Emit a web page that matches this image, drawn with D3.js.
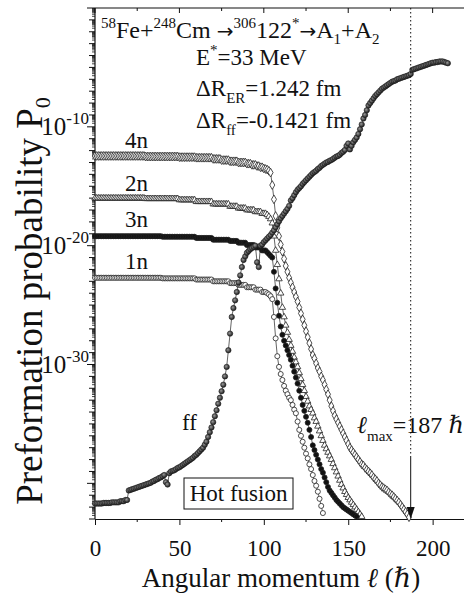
<!DOCTYPE html>
<html><head><meta charset="utf-8">
<script src="https://cdn.jsdelivr.net/npm/d3@7"></script>
<style>
body{margin:0;background:#fff}
svg{display:block}
</style>
</head><body>
<svg id="chart" width="464" height="601" font-family="'Liberation Serif', 'DejaVu Serif', serif"></svg>
<script>
// log10 of the preformation probability P0 at l = 0, 1, 2, ... (hbar)
const n4 = [
-12.45,-12.45,-12.45,-12.45,-12.45,-12.45,-12.45,-12.45,-12.45,-12.45,
-12.45,-12.45,-12.45,-12.45,-12.45,-12.45,-12.45,-12.45,-12.45,-12.45,
-12.45,-12.45,-12.45,-12.45,-12.45,-12.45,-12.45,-12.45,-12.45,-12.45,
-12.5,-12.5,-12.5,-12.5,-12.5,-12.5,-12.5,-12.5,-12.5,-12.5,
-12.5,-12.5,-12.5,-12.5,-12.5,-12.5,-12.5,-12.5,-12.5,-12.5,
-12.55,-12.55,-12.55,-12.55,-12.55,-12.55,-12.55,-12.55,-12.55,-12.55,
-12.6,-12.6,-12.6,-12.6,-12.6,-12.6,-12.6,-12.6,-12.6,-12.6,
-12.7,-12.7,-12.7,-12.7,-12.7,-12.8,-12.8,-12.8,-12.8,-12.8,
-12.9,-12.9,-12.9,-12.9,-12.9,-13.0,-13.0,-13.0,-13.0,-13.0,
-13.1,-13.1,-13.1,-13.2,-13.2,-13.2,-13.3,-13.3,-13.4,-13.4,
-13.5,-13.55,-13.6,-13.7,-13.85,-14.9,-16.1,-17.5,-18.5,-19.2,
-19.9,-20.5,-21.1,-21.7,-22.2,-22.7,-23.1,-23.5,-23.9,-24.3,
-24.7,-25.2,-25.7,-26.2,-26.7,-27.2,-27.7,-28.2,-28.7,-29.2,
-29.5,-29.9,-30.3,-30.6,-31.0,-31.3,-31.7,-32.1,-32.5,-33.0,
-33.5,-33.9,-34.3,-34.6,-34.9,-35.2,-35.5,-35.8,-36.1,-36.4,
-36.7,-37.0,-37.2,-37.4,-37.6,-37.8,-38.0,-38.2,-38.4,-38.5,
-38.7,-38.85,-39.0,-39.15,-39.3,-39.5,-39.65,-39.8,-40.0,-40.15,
-40.3,-40.4,-40.5,-40.6,-40.75,-40.9,-41.0,-41.15,-41.3,-41.45,
-41.6,-41.8,-42.0,-42.2,-42.4,-42.6,-42.85
];
const n2 = [
-16.0,-16.0,-16.0,-16.0,-16.0,-16.0,-16.0,-16.0,-16.0,-16.0,
-16.0,-16.0,-16.0,-16.0,-16.0,-16.0,-16.0,-16.0,-16.0,-16.0,
-16.0,-16.0,-16.0,-16.0,-16.0,-16.0,-16.0,-16.0,-16.0,-16.0,
-16.05,-16.05,-16.05,-16.05,-16.05,-16.05,-16.05,-16.05,-16.05,-16.05,
-16.05,-16.05,-16.05,-16.05,-16.05,-16.05,-16.05,-16.05,-16.05,-16.05,
-16.15,-16.15,-16.15,-16.15,-16.15,-16.15,-16.15,-16.15,-16.15,-16.15,
-16.3,-16.3,-16.3,-16.3,-16.3,-16.3,-16.3,-16.3,-16.3,-16.3,
-16.5,-16.5,-16.5,-16.5,-16.5,-16.5,-16.5,-16.5,-16.5,-16.5,
-16.7,-16.7,-16.7,-16.7,-16.7,-16.85,-16.85,-16.85,-16.85,-16.85,
-17.0,-17.0,-17.0,-17.0,-17.0,-17.15,-17.15,-17.15,-17.15,-17.3,
-17.3,-17.3,-17.4,-17.55,-17.75,-18.1,-19.2,-20.4,-21.6,-22.8,
-24.0,-25.2,-26.0,-26.7,-27.3,-27.9,-28.4,-28.9,-29.4,-29.8,
-30.2,-30.7,-31.2,-31.7,-32.2,-32.7,-33.1,-33.5,-33.8,-34.1,
-34.5,-34.8,-35.2,-35.6,-36.0,-36.4,-36.8,-37.1,-37.4,-37.7,
-38.0,-38.35,-38.7,-39.05,-39.4,-39.75,-40.1,-40.4,-40.7,-40.95,
-41.2,-41.4,-41.6,-41.8,-42.0,-42.2,-42.4,-42.6,-42.8
];
const n3 = [
-19.2,-19.2,-19.2,-19.2,-19.2,-19.2,-19.2,-19.2,-19.2,-19.2,
-19.2,-19.2,-19.2,-19.2,-19.2,-19.2,-19.2,-19.2,-19.2,-19.2,
-19.2,-19.2,-19.2,-19.2,-19.2,-19.2,-19.2,-19.2,-19.2,-19.2,
-19.2,-19.2,-19.2,-19.2,-19.2,-19.2,-19.2,-19.2,-19.2,-19.2,
-19.25,-19.25,-19.25,-19.25,-19.25,-19.25,-19.25,-19.25,-19.25,-19.25,
-19.25,-19.25,-19.25,-19.25,-19.25,-19.25,-19.25,-19.25,-19.25,-19.25,
-19.35,-19.35,-19.35,-19.35,-19.35,-19.35,-19.35,-19.35,-19.35,-19.35,
-19.5,-19.5,-19.5,-19.5,-19.5,-19.5,-19.5,-19.5,-19.5,-19.5,
-19.6,-19.6,-19.6,-19.6,-19.6,-19.75,-19.75,-19.75,-19.75,-19.75,
-19.95,-19.95,-19.95,-19.95,-19.95,-20.15,-20.15,-20.15,-20.15,-20.4,
-20.4,-20.4,-20.55,-20.7,-20.85,-21.0,-22.2,-23.6,-24.8,-25.9,
-26.8,-27.5,-28.0,-28.4,-28.8,-29.2,-29.6,-30.1,-30.6,-31.1,
-31.6,-32.2,-32.8,-33.4,-33.9,-34.4,-34.9,-35.5,-36.1,-36.8,
-37.2,-37.6,-38.0,-38.4,-38.8,-39.1,-39.5,-39.9,-40.3,-40.6,
-40.8,-41.0,-41.2,-41.4,-41.55,-41.7,-41.85,-42.0,-42.1,-42.2,
-42.3,-42.4,-42.5,-42.6,-42.7,-42.8
];
const n1 = [
-22.7,-22.7,-22.7,-22.7,-22.7,-22.7,-22.7,-22.7,-22.7,-22.7,
-22.7,-22.7,-22.7,-22.7,-22.7,-22.7,-22.7,-22.7,-22.7,-22.7,
-22.7,-22.7,-22.7,-22.7,-22.7,-22.7,-22.7,-22.7,-22.7,-22.7,
-22.7,-22.7,-22.7,-22.7,-22.7,-22.7,-22.7,-22.7,-22.7,-22.7,
-22.75,-22.75,-22.75,-22.75,-22.75,-22.75,-22.75,-22.75,-22.75,-22.75,
-22.75,-22.75,-22.75,-22.75,-22.75,-22.75,-22.75,-22.75,-22.75,-22.75,
-22.85,-22.85,-22.85,-22.85,-22.85,-22.85,-22.85,-22.85,-22.85,-22.85,
-23.0,-23.0,-23.0,-23.0,-23.0,-23.0,-23.0,-23.0,-23.0,-23.0,
-23.15,-23.15,-23.15,-23.15,-23.15,-23.3,-23.3,-23.3,-23.3,-23.3,
-23.5,-23.5,-23.5,-23.5,-23.5,-23.7,-23.7,-23.7,-23.7,-23.9,
-23.9,-23.9,-24.0,-24.1,-24.25,-24.5,-26.0,-27.8,-29.3,-30.2,
-30.8,-31.3,-31.8,-32.2,-32.5,-32.8,-33.0,-33.4,-33.8,-34.1,
-34.8,-35.5,-36.0,-36.5,-37.0,-37.5,-37.9,-38.4,-38.8,-39.3,
-39.8,-40.2,-40.7,-41.3,-41.9,-42.5
];
const ff = [
-41.7,-41.7,-41.7,-41.7,-41.7,-41.65,-41.65,-41.65,-41.65,-41.65,
-41.6,-41.6,-41.6,-41.6,-41.6,-41.5,-41.5,-41.5,-41.4,-41.4,
-40.6,-40.55,-40.5,-40.45,-40.4,-40.35,-40.3,-40.25,-40.2,-40.15,
-40.1,-40.05,-40.0,-39.95,-39.85,-39.8,-39.7,-39.65,-39.55,-39.5,
-39.4,-39.3,-39.9,-40.1,-39.15,-39.0,-38.95,-38.9,-38.8,-38.7,
-38.65,-38.55,-38.45,-38.35,-38.25,-38.15,-38.05,-37.95,-37.85,-37.7,
-37.6,-37.45,-37.3,-37.15,-37.0,-36.75,-36.5,-36.1,-35.7,-35.3,
-34.85,-34.35,-33.85,-33.3,-32.8,-32.25,-31.7,-31.0,-30.2,-28.8,
-27.4,-26.0,-25.25,-24.6,-23.9,-23.1,-22.5,-21.8,-21.2,-20.9,
-20.6,-20.45,-20.3,-20.2,-20.1,-20.0,-21.4,-21.8,-20.0,-19.9,
-19.7,-19.55,-19.4,-19.25,-19.1,-18.9,-18.7,-18.45,-18.2,-17.95,
-17.7,-17.5,-17.3,-17.1,-16.9,-16.65,-16.2,-16.0,-15.75,-15.5,
-15.3,-15.15,-15.0,-14.8,-14.65,-14.5,-14.35,-14.2,-14.05,-13.9,
-13.8,-13.7,-13.55,-13.45,-13.3,-13.2,-13.1,-13.0,-12.95,-12.85,
-12.8,-12.7,-12.6,-12.5,-12.45,-12.35,-12.2,-12.1,-11.95,-11.6,
-11.4,-11.9,-11.6,-11.3,-11.1,-10.9,-10.6,-10.2,-9.8,-9.3,
-9.0,-8.6,-8.2,-8.0,-7.8,-7.6,-7.4,-7.25,-7.1,-6.95,
-6.8,-6.7,-6.6,-6.5,-6.4,-6.3,-6.2,-6.15,-6.1,-6.0,
-5.95,-5.9,-5.85,-5.8,-5.75,-5.7,-5.65,-5.55,-5.2,-5.15,
-5.1,-5.05,-5.0,-4.95,-4.9,-4.85,-4.8,-4.75,-4.7,-4.65,
-4.6,-4.6,-4.55,-4.55,-4.5,-4.5,-4.5,-4.55,-4.6,-4.65
];
const xTicks = [0, 50, 100, 150, 200];
const yLabelExps = [-10, -20, -30];
const lMax = 187;

const FONT = "'Liberation Serif', 'DejaVu Serif', serif";
const ARROW_FONT = "'DejaVu Sans', sans-serif";
const svg = d3.select("#chart");
const pL = 95, pT = 8, pB = 519, pR = 466.4;

const x = d3.scaleLinear().domain([0, 220]).range([pL, pR]);
const y = d3.scaleLog().domain([1e-43, 1]).range([pB, pT]);

const toPts = arr => arr.map((v, i) => ({ l: i, p: Math.pow(10, v) }));

function label(sel, size) {
  return sel.append("text").attr("font-family", FONT).style("font-family", FONT)
    .attr("font-size", size).attr("fill", "#111");
}

// frame: top and right edges
svg.append("line").attr("x1", pL).attr("x2", pR).attr("y1", pT).attr("y2", pT)
  .attr("stroke", "#111").attr("stroke-width", 1.2);
svg.append("line").attr("x1", pR).attr("x2", pR).attr("y1", pT).attr("y2", pB)
  .attr("stroke", "#111").attr("stroke-width", 1.2);

// top edge ticks pointing inward
const minorX = d3.range(25, 225, 50);
xTicks.forEach(v => {
  svg.append("line").attr("x1", x(v)).attr("x2", x(v)).attr("y1", pT).attr("y2", pT + 5).attr("stroke", "#111");
});
minorX.forEach(v => {
  svg.append("line").attr("x1", x(v)).attr("x2", x(v)).attr("y1", pT).attr("y2", pT + 3).attr("stroke", "#111");
});

// x axis
const xAxis = svg.append("g").attr("transform", `translate(0,${pB})`)
  .call(d3.axisBottom(x).tickValues(xTicks).tickSize(6).tickSizeOuter(0).tickFormat(d3.format("d")));
xAxis.attr("font-family", FONT);
xAxis.select(".domain").attr("stroke", "#111").attr("stroke-width", 1.2);
xAxis.selectAll(".tick line").attr("stroke", "#111");
xAxis.selectAll(".tick text").attr("y", 37).attr("dy", 0)
  .style("font-family", FONT).style("font-size", "23px").attr("fill", "#111");
minorX.forEach(v => {
  svg.append("line").attr("x1", x(v)).attr("x2", x(v)).attr("y1", pB).attr("y2", pB + 3).attr("stroke", "#111");
});

// y axis: decade ticks with 2..9 minor ticks
const gy = svg.append("g");
gy.append("line").attr("x1", pL).attr("x2", pL).attr("y1", pT).attr("y2", pB)
  .attr("stroke", "#111").attr("stroke-width", 1.2);
for (let e = -43; e <= 0; e++) {
  const major = e % 10 === 0;
  gy.append("line").attr("x1", pL).attr("x2", pL - (major ? 8 : 6))
    .attr("y1", y(Math.pow(10, e))).attr("y2", y(Math.pow(10, e))).attr("stroke", "#111");
  if (e < 0) {
    for (let m = 2; m <= 9; m++) {
      const yy = y(m * Math.pow(10, e));
      gy.append("line").attr("x1", pL).attr("x2", pL - 3)
        .attr("y1", yy).attr("y2", yy).attr("stroke", "#111").attr("stroke-width", 0.8);
    }
  }
}
yLabelExps.forEach(e => {
  const t = label(gy, 25).attr("x", 89).attr("y", y(Math.pow(10, e)) + 8).attr("text-anchor", "end");
  t.append("tspan").text("10");
  t.append("tspan").attr("dy", -11).attr("font-size", 17).text(String(e));
});

// axis titles
label(svg, 27).attr("x", 281).attr("y", 587).attr("text-anchor", "middle")
  .call(t => {
    t.append("tspan").text("Angular momentum ");
    t.append("tspan").style("font-style", "italic").text("\u2113");
    t.append("tspan").text(" (");
    t.append("tspan").style("font-style", "italic").text("\u210F");
    t.append("tspan").text(")");
  });
label(svg, 37).attr("transform", "translate(42,301) rotate(-90)").attr("text-anchor", "middle")
  .call(t => {
    t.append("tspan").text("Preformation probability P");
    t.append("tspan").attr("dy", 8).attr("font-size", 22).text("0");
  });

// curves
const plot = svg.append("g");
const line = d3.line().x(d => x(d.l)).y(d => y(d.p));

const series = [
  { data: n4, shape: d3.symbolDiamond, size: 22, fill: "#fff" },
  { data: n2, shape: d3.symbolTriangle, size: 18, fill: "#fff" },
  { data: n3, shape: d3.symbolCircle, size: 20, fill: "#111" },
  { data: n1, shape: d3.symbolCircle, size: 20, fill: "#fff" }
];

const defs = svg.append("defs");
const grad = defs.append("radialGradient").attr("id", "ball").attr("cx", "40%").attr("cy", "40%").attr("r", "60%");
grad.append("stop").attr("offset", "0%").attr("stop-color", "#999");
grad.append("stop").attr("offset", "100%").attr("stop-color", "#1a1a1a");

series.forEach(s => {
  const pts = toPts(s.data);
  plot.append("path").datum(pts).attr("d", line).attr("fill", "none").attr("stroke", "#222").attr("stroke-width", 0.7);
  plot.append("g").selectAll("path").data(pts).join("path")
    .attr("transform", d => `translate(${x(d.l)},${y(d.p)})`)
    .attr("d", d3.symbol().type(s.shape).size(s.size))
    .attr("fill", s.fill).attr("stroke", "#222").attr("stroke-width", 0.8);
});

const ffPts = toPts(ff);
plot.append("path").datum(ffPts).attr("d", line).attr("fill", "none").attr("stroke", "#222").attr("stroke-width", 0.7);
plot.append("g").selectAll("circle").data(ffPts).join("circle")
  .attr("cx", d => x(d.l)).attr("cy", d => y(d.p)).attr("r", 2.7)
  .attr("fill", "url(#ball)").attr("stroke", "#222").attr("stroke-width", 0.6);

// l_max marker: dotted guide and arrow to the axis
const xm = x(lMax);
svg.append("line").attr("x1", xm).attr("x2", xm).attr("y1", pT).attr("y2", 457)
  .attr("stroke", "#111").attr("stroke-width", 1).attr("stroke-dasharray", "1.5,2.5");
svg.append("line").attr("x1", xm).attr("x2", xm).attr("y1", 457).attr("y2", pB - 8)
  .attr("stroke", "#111").attr("stroke-width", 1);
svg.append("path").attr("d", `M${xm - 4},${pB - 12}L${xm + 4},${pB - 12}L${xm},${pB}Z`).attr("fill", "#111");

// annotations
const ann = svg.append("g");
ann.append("rect").attr("x", 184).attr("y", 478).attr("width", 109).attr("height", 31)
  .attr("fill", "#fff").attr("stroke", "#111").attr("stroke-width", 1);
label(ann, 23).attr("x", 238.5).attr("y", 501).attr("text-anchor", "middle").text("Hot fusion");

label(ann, 24).attr("x", 101).attr("y", 38).call(t => {
  t.append("tspan").attr("dy", -10).attr("font-size", 15).text("58");
  t.append("tspan").attr("dy", 10).text("Fe+");
  t.append("tspan").attr("dy", -10).attr("font-size", 15).text("248");
  t.append("tspan").attr("dy", 10).text("Cm ");
  t.append("tspan").style("font-family", ARROW_FONT).attr("font-size", 20).text("\u2192");
  t.append("tspan").attr("dy", -10).attr("font-size", 15).text("306");
  t.append("tspan").attr("dy", 10).text("122");
  t.append("tspan").attr("dy", -10).attr("font-size", 15).text("*");
  t.append("tspan").attr("dy", 10).style("font-family", ARROW_FONT).attr("font-size", 20).text("\u2192");
  t.append("tspan").text("A");
  t.append("tspan").attr("dy", 6).attr("font-size", 15).text("1");
  t.append("tspan").attr("dy", -6).text("+A");
  t.append("tspan").attr("dy", 6).attr("font-size", 15).text("2");
});
label(ann, 23).attr("x", 196).attr("y", 65).call(t => {
  t.append("tspan").text("E");
  t.append("tspan").attr("dy", -10).attr("font-size", 15).text("*");
  t.append("tspan").attr("dy", 10).text("=33 MeV");
});
label(ann, 23).attr("x", 196).attr("y", 96).call(t => {
  t.append("tspan").text("\u0394R");
  t.append("tspan").attr("dy", 7).attr("font-size", 15).text("ER");
  t.append("tspan").attr("dy", -7).text("=1.242 fm");
});
label(ann, 23).attr("x", 196).attr("y", 128).call(t => {
  t.append("tspan").text("\u0394R");
  t.append("tspan").attr("dy", 7).attr("font-size", 15).text("ff");
  t.append("tspan").attr("dy", -7).text("=-0.1421 fm");
});
[["4n", 148], ["2n", 191], ["3n", 227], ["1n", 269]].forEach(([s, yy]) => {
  label(ann, 23).attr("x", 125).attr("y", yy).text(s);
});
label(ann, 23).attr("x", 182).attr("y", 430).text("ff");
label(ann, 24).attr("x", 357).attr("y", 433).call(t => {
  t.append("tspan").style("font-style", "italic").text("\u2113");
  t.append("tspan").attr("dy", 8).attr("font-size", 15).text("max");
  t.append("tspan").attr("dy", -8).text("=187 ");
  t.append("tspan").style("font-style", "italic").text("\u210F");
});
</script>
</body></html>
